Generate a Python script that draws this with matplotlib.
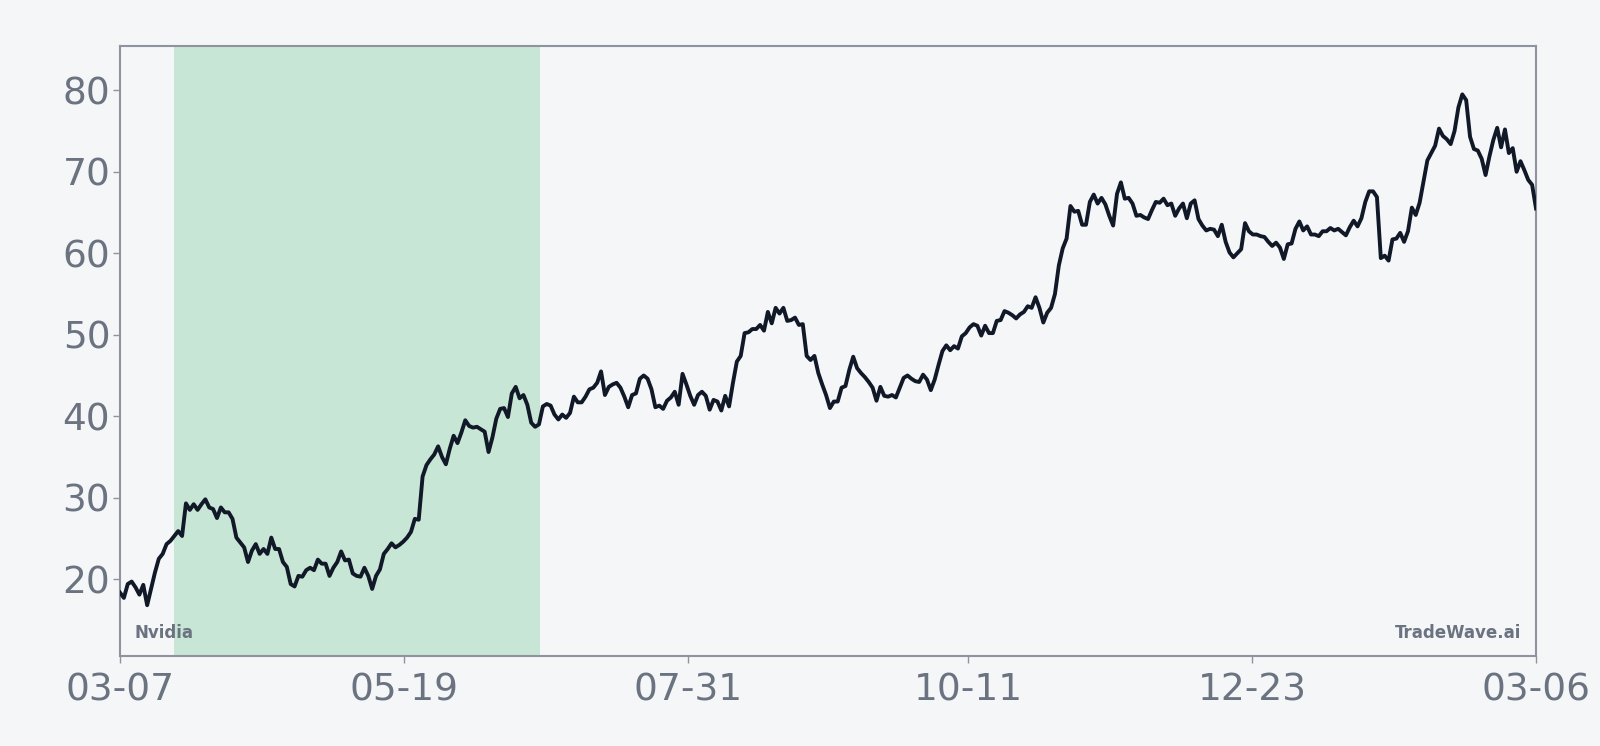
import pandas as pd
import numpy as np
import matplotlib
matplotlib.use('Agg')
import matplotlib.pyplot as plt
import matplotlib.dates as mdates

# dane (cena zamkniecia, kolejne dni)
start_date = '2022-03-07'
end_date = '2023-03-06'

prices_a = [18.35, 17.7, 19.4, 19.7, 19.0, 18.1, 19.3, 16.8, 18.8, 20.8, 22.5, 23.1, 24.3, 24.7,
            25.3, 25.9, 25.3, 29.3, 28.5, 29.2, 28.5, 29.2, 29.8, 28.8, 28.6, 27.5, 28.8, 28.2,
            28.2, 27.4, 25.1, 24.5, 23.9, 22.1, 23.5, 24.3, 23.1, 23.7, 23.1, 25.1, 23.7, 23.7,
            22.1, 21.5, 19.4, 19.1, 20.4, 20.3, 21.1, 21.4, 21.1]
prices_b = [22.4, 21.9, 21.9, 20.4, 21.4, 22.1, 23.4, 22.3, 22.4, 20.7, 20.4, 20.3, 21.4, 20.4,
            18.8, 20.4, 21.2, 23.1, 23.7, 24.4, 23.9, 24.2, 24.6, 25.1, 25.8, 27.4, 27.3, 32.6,
            34.0, 34.7, 35.3, 36.3, 35.0, 34.1, 36.0, 37.6, 36.7, 38.0, 39.5, 38.8, 38.6, 38.7,
            38.4, 38.1, 35.6, 37.4, 39.7, 40.9, 41.0, 39.9, 42.8]
prices_c = [43.6, 42.2, 42.6, 41.4, 39.2, 38.7, 39.0, 41.2, 41.5, 41.3, 40.2, 39.6, 40.2, 39.8,
            40.4, 42.4, 41.7, 41.7, 42.4, 43.3, 43.5, 44.1, 45.5, 42.6, 43.6, 43.9, 44.1, 43.5,
            42.4, 41.1, 42.6, 42.8, 44.6, 45.0, 44.6, 43.3, 41.1, 41.3, 40.9, 41.9, 42.3, 43.0,
            41.4, 45.2, 43.9, 42.5, 41.4, 42.6, 43.0, 42.5, 40.8, 42.0]
prices_d = [41.8, 40.7, 42.5, 41.2, 44.1, 46.7, 47.4, 50.2, 50.3, 50.7, 50.7, 51.2, 50.5, 52.8,
            51.4, 53.3, 52.6, 53.3, 51.7, 51.8, 52.1, 51.2, 51.3, 47.4, 46.9, 47.4, 45.3, 43.9,
            42.6, 41.0, 41.8, 41.8, 43.5, 43.7, 45.7, 47.3, 45.9, 45.3, 44.8, 44.2, 43.5, 41.9,
            43.6, 42.5, 42.4, 42.6, 42.3, 43.5, 44.7, 45.0, 44.6, 44.3]
prices_e = [44.2, 45.1, 44.5, 43.2, 44.5, 46.3, 48.0, 48.7, 48.1, 48.6, 48.3, 49.8, 50.2, 50.9,
            51.3, 51.1, 49.9, 51.1, 50.2, 50.2, 51.7, 51.8, 52.9, 52.7, 52.4, 52.0, 52.5, 52.8,
            53.5, 53.3, 54.6, 53.3, 51.5, 52.7, 53.3, 55.0, 58.5, 60.6, 61.8, 65.8, 65.1, 65.2,
            63.5, 63.5, 66.3, 67.2, 66.1, 66.8, 66.0, 64.6, 63.4, 67.3]
prices_f = [68.7, 66.7, 66.8, 66.1, 64.6, 64.7, 64.4, 64.2, 65.3, 66.3, 66.2, 66.7, 65.9, 66.1,
            64.6, 65.5, 66.1, 64.3, 66.1, 66.5, 64.2, 63.4, 62.8, 63.0, 62.9, 62.1, 63.5, 61.4,
            60.1, 59.5, 60.0, 60.5, 63.7, 62.7, 62.3, 62.3, 62.1, 62.0, 61.4, 60.9, 61.3, 60.7,
            59.3, 61.1, 61.2, 63.0, 63.9, 62.8, 63.3, 62.3, 62.3, 62.1]
prices_g = [62.7, 62.7, 63.1, 62.8, 63.0, 62.6, 62.2, 63.2, 64.0, 63.3, 64.3, 66.3, 67.6, 67.6,
            66.9, 59.4, 59.7, 59.1, 61.7, 61.8, 62.5, 61.4, 62.7, 65.6, 64.7, 66.2, 68.8, 71.4,
            72.3, 73.2, 75.3, 74.4, 74.0, 73.4, 75.0, 77.9, 79.5, 78.8, 74.3, 72.8, 72.6, 71.6,
            69.6, 71.9, 73.9, 75.4, 73.0, 75.2, 72.3, 72.9, 70.0, 71.3, 70.2, 69.0, 68.4, 65.5]

prices = prices_a + prices_b + prices_c + prices_d + prices_e + prices_f + prices_g

tick_dates = ['2022-03-07', '2022-05-19', '2022-07-31', '2022-10-11', '2022-12-23', '2023-03-06']
highlight = ['2022-03-21', '2022-06-23']

dates = pd.date_range(start_date, end_date, periods=len(prices))
df = pd.DataFrame({'date': dates, 'price': prices})

bg = '#f4f6f8'
grey = '#6b7280'
spine_col = '#8e939e'

fig = plt.figure(figsize=(16, 7.46), dpi=100, facecolor=bg)
ax = fig.add_axes([0.075, 0.121, 0.885, 0.818])
ax.set_facecolor(bg)

# zaznaczony okres
ax.axvspan(pd.Timestamp(highlight[0]), pd.Timestamp(highlight[1]), color='#c8e6d5', lw=0, zorder=1)

ax.plot(df['date'], df['price'], color='#111827', lw=2.8, zorder=3)

ax.set_xlim(pd.Timestamp(start_date), pd.Timestamp(end_date))
ax.set_ylim(10.6, 85.5)

ax.set_xticks([pd.Timestamp(d) for d in tick_dates])
ax.xaxis.set_major_formatter(mdates.DateFormatter('%m-%d'))
ax.set_yticks([20, 30, 40, 50, 60, 70, 80])

ax.tick_params(axis='both', colors=spine_col, labelcolor=grey, labelsize=27, length=5, width=1)
ax.tick_params(axis='x', pad=7)
ax.tick_params(axis='y', pad=2)

for s in ax.spines.values():
    s.set_color(spine_col)
    s.set_linewidth(1.5)

ax.text(0.0105, 0.022, 'Nvidia', transform=ax.transAxes, fontsize=12, fontweight='bold',
        color=grey, ha='left', va='bottom')
ax.text(0.9895, 0.022, 'TradeWave.ai', transform=ax.transAxes, fontsize=12, fontweight='bold',
        color=grey, ha='right', va='bottom')

plt.savefig('out.png', dpi=100, facecolor=bg)
